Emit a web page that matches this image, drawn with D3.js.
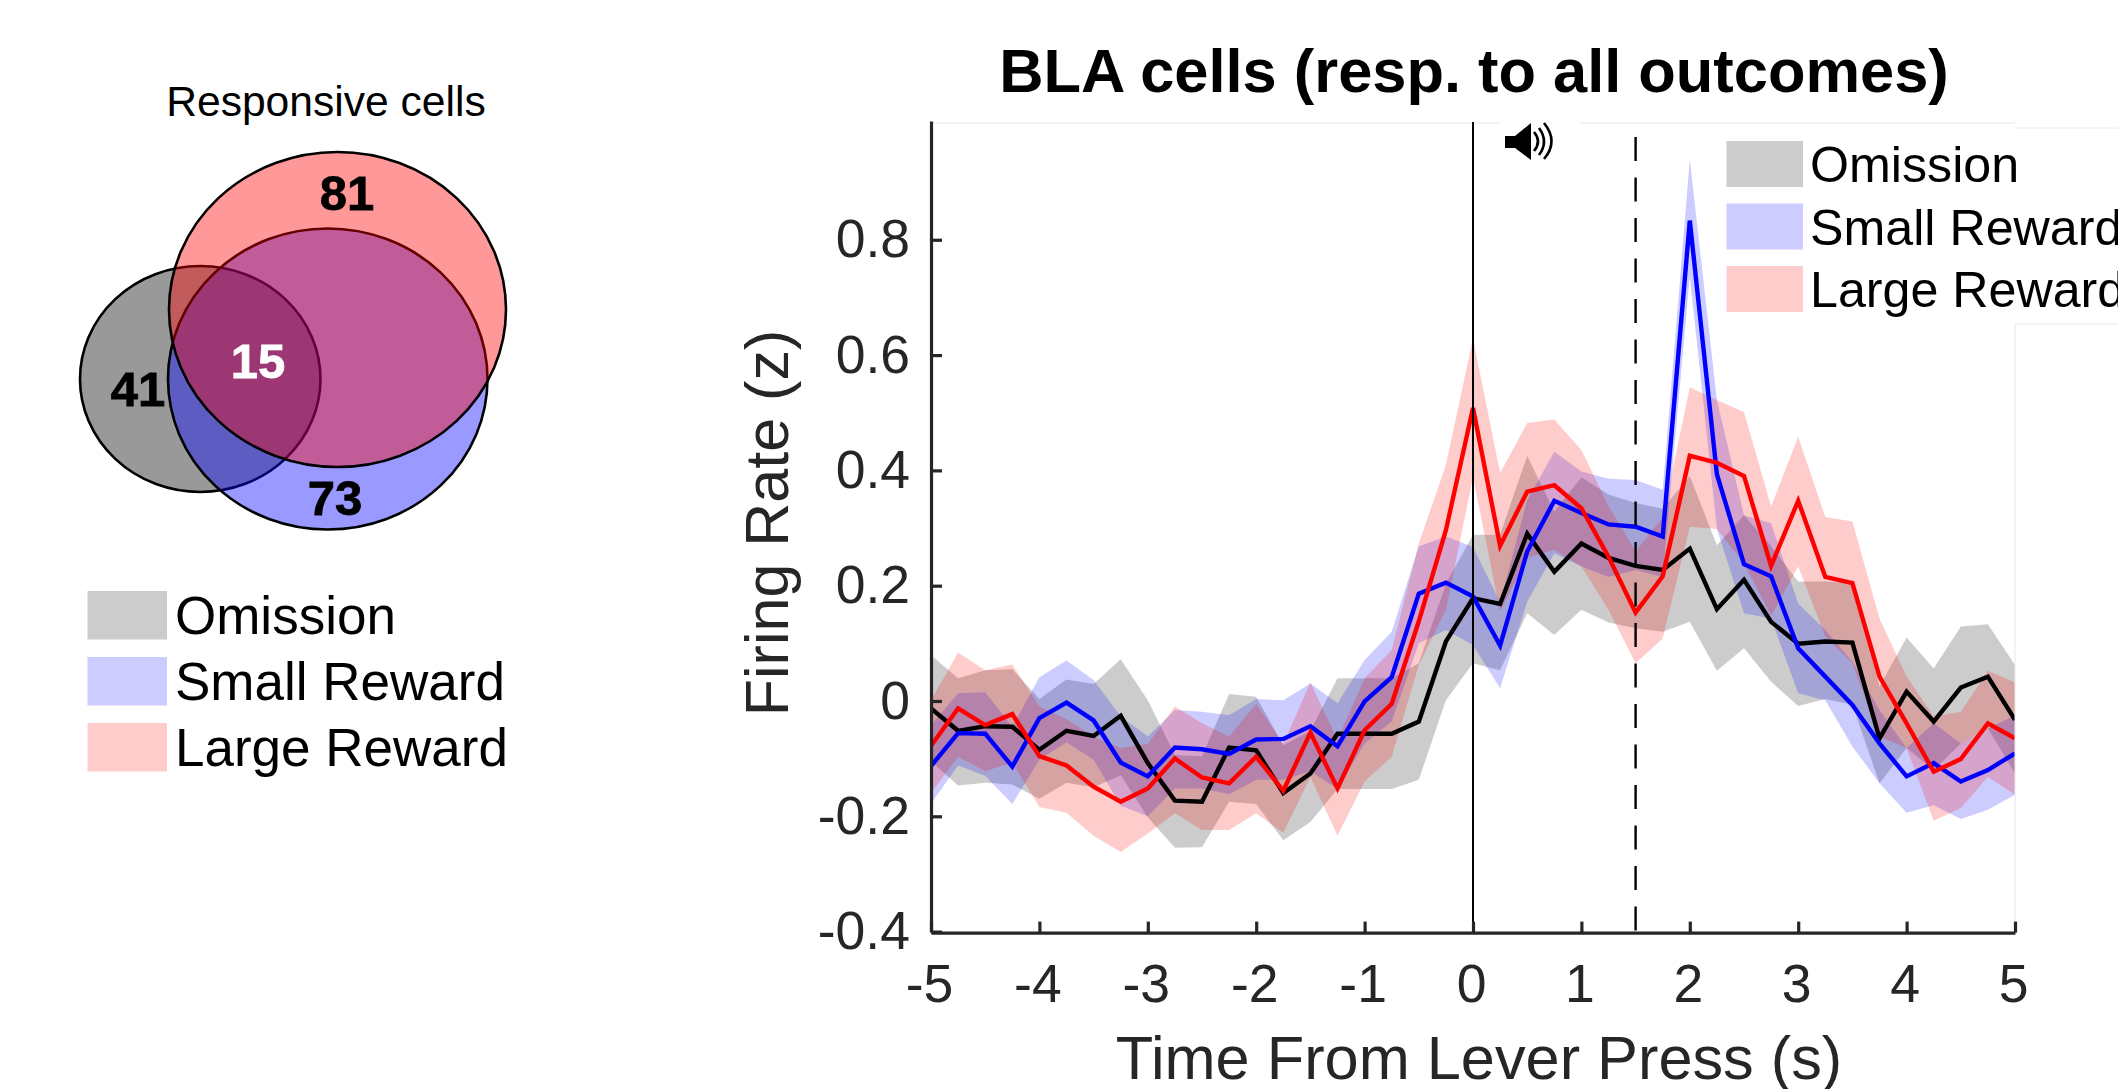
<!DOCTYPE html>
<html>
<head>
<meta charset="utf-8">
<script src="https://cdn.jsdelivr.net/npm/d3@7"></script>
<style>
  body { margin: 0; background: white; overflow: hidden; }
  text { font-family: "Liberation Sans", Arial, sans-serif; }
</style>
</head>
<body>
<div id="container"></div>
<script>
let w = 2118;
let h = 1089;

// time bins, every 0.25 s
let times = [-5,-4.75,-4.5,-4.25,-4,-3.75,-3.5,-3.25,-3,-2.75,-2.5,-2.25,-2,-1.75,-1.5,-1.25,-1,-0.75,-0.5,-0.25,0,0.25,0.5,0.75,1,1.25,1.5,1.75,2,2.25,2.5,2.75,3,3.25,3.5,3.75,4,4.25,4.5,4.75,5];

let omissionMean = [-.011,-.05,-.042,-.043,-.083,-.05,-.059,-.024,-.106,-.171,-.173,-.079,-.084,-.158,-.124,-.055,-.055,-.055,-.034,.105,.18,.17,.292,.226,.275,.25,.236,.229,.266,.161,.212,.139,.101,.105,.103,-.063,.018,-.034,.025,.044,-.031];
let omissionUpper = [.081,.041,.055,.057,.005,.039,.031,.074,.003,-.092,-.094,.014,.009,-.075,-.05,.041,.041,.041,.067,.205,.29,.29,.427,.33,.39,.36,.345,.335,.392,.272,.324,.27,.209,.209,.206,.027,.112,.058,.131,.135,.064];
let omissionLower = [-.103,-.145,-.14,-.143,-.168,-.14,-.148,-.127,-.2,-.253,-.252,-.173,-.177,-.24,-.208,-.151,-.151,-.151,-.135,.003,.067,.055,.154,.116,.16,.138,.128,.122,.139,.054,.093,.035,-.007,.005,-.005,-.141,-.08,-.118,-.072,-.046,-.124];

let smallMean = [-.111,-.054,-.055,-.112,-.028,-.001,-.032,-.105,-.129,-.079,-.082,-.09,-.065,-.064,-.042,-.077,.001,.043,.188,.207,.183,.098,.261,.349,.328,.308,.304,.287,.835,.395,.239,.218,.093,.044,-.005,-.072,-.129,-.106,-.138,-.118,-.089];
let smallUpper = [-.04,.015,.017,-.043,.043,.072,.038,-.025,-.06,-.014,-.017,-.023,.005,.003,.032,-.002,.073,.122,.27,.287,.269,.173,.35,.434,.4,.387,.385,.368,.941,.524,.324,.31,.171,.125,.07,-.014,-.08,-.037,-.072,-.046,-.023];
let smallLower = [-.176,-.11,-.128,-.177,-.1,-.07,-.1,-.18,-.198,-.15,-.15,-.16,-.135,-.135,-.12,-.151,-.072,-.034,.102,.125,.099,.024,.174,.258,.235,.217,.229,.217,.738,.3,.154,.145,.015,.003,-.077,-.141,-.192,-.179,-.203,-.187,-.161];

let largeMean = [-.076,-.011,-.04,-.021,-.094,-.11,-.147,-.173,-.15,-.098,-.131,-.141,-.095,-.154,-.053,-.15,-.049,-.003,.14,.298,.51,.271,.365,.376,.336,.252,.155,.218,.427,.415,.392,.236,.349,.217,.206,.044,-.037,-.121,-.099,-.037,-.063];
let largeUpper = [.003,.086,.055,.065,-.008,-.03,-.06,-.08,-.073,-.008,-.037,-.06,-.003,-.073,.034,-.066,.041,.09,.275,.411,.631,.397,.484,.49,.437,.34,.261,.32,.546,.524,.503,.339,.46,.321,.313,.145,.044,-.025,-.017,.054,.034];
let largeLower = [-.158,-.095,-.12,-.105,-.182,-.192,-.232,-.26,-.228,-.193,-.222,-.222,-.193,-.227,-.13,-.232,-.138,-.095,.064,.16,.39,.157,.25,.264,.235,.16,.067,.11,.304,.3,.24,.15,.235,.113,.067,-.06,-.08,-.206,-.184,-.13,-.161];

let xTicks = [-5,-4,-3,-2,-1,0,1,2,3,4,5];
let xTickLabels = ["-5","-4","-3","-2","-1","0","1","2","3","4","5"];
let yTicks = [-0.4,-0.2,0,0.2,0.4,0.6,0.8];
let yTickLabels = ["-0.4","-0.2","0","0.2","0.4","0.6","0.8"];

let legendNames = ["Omission","Small Reward","Large Reward"];
let legendColors = ["#cccccc","#ccccff","#ffcccc"];

let viz = d3.select("#container")
  .append("svg")
    .attr("width", w)
    .attr("height", h)
    .style("display", "block")
    .style("background-color", "white")
;

// ---------- venn panel ----------
let vennGroup = viz.append("g").attr("class", "venn");

vennGroup.append("text")
  .attr("x", 326).attr("y", 116)
  .attr("text-anchor", "middle")
  .attr("font-size", 42.6)
  .attr("fill", "black")
  .text("Responsive cells");

function drawEllipse(x0, x1, y0, y1, color){
  vennGroup.append("ellipse")
    .attr("cx", (x0 + x1) / 2)
    .attr("cy", (y0 + y1) / 2)
    .attr("rx", (x1 - x0) / 2)
    .attr("ry", (y1 - y0) / 2)
    .attr("fill", color)
    .attr("fill-opacity", 0.4)
    .attr("stroke", "black")
    .attr("stroke-width", 2.6);
}
drawEllipse(80, 320.5, 266, 492, "black");
drawEllipse(168, 487.5, 228.5, 529.5, "blue");
drawEllipse(169, 506, 152, 467, "red");

function vennLabel(x, y, txt, color){
  vennGroup.append("text")
    .attr("x", x).attr("y", y)
    .attr("text-anchor", "middle")
    .attr("font-size", 49)
    .attr("font-weight", "bold")
    .attr("fill", color)
    .attr("stroke", color)
    .attr("stroke-width", 0.8)
    .text(txt);
}
vennLabel(347, 210, "81", "black");
vennLabel(335, 515, "73", "black");
vennLabel(138, 406, "41", "black");
vennLabel(258, 378, "15", "white");

function drawLegend(x, yTop, size, rowGap, textX, baseOffset, fontSize){
  let rows = viz.append("g").selectAll("g").data(legendNames).enter().append("g")
    .attr("transform", function(d, i){ return "translate(0," + (yTop + i * rowGap) + ")"; });
  rows.append("rect")
    .attr("x", x).attr("y", 0)
    .attr("width", size[0]).attr("height", size[1])
    .attr("fill", function(d, i){ return legendColors[i]; });
  rows.append("text")
    .attr("x", textX).attr("y", baseOffset)
    .attr("font-size", fontSize)
    .attr("fill", "black")
    .text(function(d){ return d; });
}
drawLegend(87.5, 591, [79.5, 48.5], 66, 175, 42.5, 53);

// ---------- time course panel ----------
let xScale = d3.scaleLinear().domain([-5, 5]).range([931, 2015]);
let yScale = d3.scaleLinear().domain([-0.4, 1.006]).range([932.6, 122]);

viz.append("defs").append("clipPath").attr("id", "plotClip")
  .append("rect")
    .attr("x", 931).attr("y", 122)
    .attr("width", 1084).attr("height", 811);

let plotGroup = viz.append("g").attr("clip-path", "url(#plotClip)");

let bandArea = d3.area()
  .x(function(d){ return xScale(d.t); })
  .y0(function(d){ return yScale(d.lo); })
  .y1(function(d){ return yScale(d.hi); });

let meanLine = d3.line()
  .x(function(d){ return xScale(d.t); })
  .y(function(d){ return yScale(d.m); });

let seriesList = [
  { color: "black", mean: omissionMean, upper: omissionUpper, lower: omissionLower },
  { color: "blue", mean: smallMean, upper: smallUpper, lower: smallLower },
  { color: "red", mean: largeMean, upper: largeUpper, lower: largeLower }
];

function rowsFor(s){
  return times.map(function(t, i){
    return { t: t, m: s.mean[i], hi: s.upper[i], lo: s.lower[i] };
  });
}

seriesList.forEach(function(s){
  plotGroup.append("path")
    .attr("d", bandArea(rowsFor(s)))
    .attr("fill", s.color)
    .attr("fill-opacity", 0.2);
});
seriesList.forEach(function(s){
  plotGroup.append("path")
    .attr("d", meanLine(rowsFor(s)))
    .attr("fill", "none")
    .attr("stroke", s.color)
    .attr("stroke-width", 4.4)
    .attr("stroke-linejoin", "miter");
});

// faint leftovers of the panel edges
let edgeColor = "#e8e8e8";
[[931, 1500, 123, 123], [1580, 2015, 123, 123], [2015, 2118, 128, 128], [2015, 2015, 324, 932], [2015, 2118, 324, 324]].forEach(function(e){
  viz.append("line")
    .attr("x1", e[0]).attr("x2", e[1]).attr("y1", e[2]).attr("y2", e[3])
    .attr("stroke", edgeColor)
    .attr("stroke-width", 1);
});

// event lines
viz.append("line")
  .attr("x1", xScale(0)).attr("x2", xScale(0))
  .attr("y1", 122).attr("y2", yScale(-0.4))
  .attr("stroke", "black").attr("stroke-width", 2);
viz.append("line")
  .attr("x1", xScale(1.5)).attr("x2", xScale(1.5))
  .attr("y1", 137).attr("y2", yScale(-0.4))
  .attr("stroke", "black").attr("stroke-width", 2.4)
  .attr("stroke-dasharray", "24 16.5");

// speaker icon
let speaker = viz.append("g").attr("transform", "translate(1505,123)");
speaker.append("path")
  .attr("d", "M0,13 L10,13 L26,0 L26,37 L10,25 L0,25 Z")
  .attr("fill", "black");
[[29, 9, 28, 8], [34, 5, 32, 10], [39, 0, 36, 15]].forEach(function(a){
  speaker.append("path")
    .attr("d", "M" + a[0] + "," + a[1] + " Q" + (a[0] + a[3]) + ",18.5 " + a[0] + "," + a[2])
    .attr("fill", "none")
    .attr("stroke", "black")
    .attr("stroke-width", 2.6);
});

// axes
let xAxis = d3.axisBottom(xScale)
  .tickValues(xTicks)
  .tickFormat(function(d, i){ return xTickLabels[i]; })
  .tickSizeInner(-11)
  .tickSizeOuter(0)
  .tickPadding(31);
let xAxisGroup = viz.append("g").attr("class", "xaxis")
  .attr("transform", "translate(0," + yScale(-0.4) + ")")
  .call(xAxis);
xAxisGroup.selectAll("text").attr("dx", -2);

let yAxis = d3.axisLeft(yScale)
  .tickValues(yTicks)
  .tickFormat(function(d, i){ return yTickLabels[i]; })
  .tickSizeInner(-11)
  .tickSizeOuter(0)
  .tickPadding(21);
let yAxisGroup = viz.append("g").attr("class", "yaxis")
  .attr("transform", "translate(931,-1)")
  .call(yAxis);

viz.selectAll(".xaxis text, .yaxis text")
  .attr("font-family", "Liberation Sans")
  .attr("font-size", 53.5)
  .attr("fill", "#262626");
viz.selectAll(".xaxis path, .yaxis path, .xaxis line, .yaxis line")
  .attr("stroke", "#262626")
  .attr("stroke-width", 3.2);

// titles
viz.append("text")
  .attr("x", 1474).attr("y", 92)
  .attr("text-anchor", "middle")
  .attr("font-size", 61.4)
  .attr("font-weight", "bold")
  .attr("fill", "black")
  .text("BLA cells (resp. to all outcomes)");
viz.append("text")
  .attr("x", 1479).attr("y", 1079)
  .attr("text-anchor", "middle")
  .attr("font-size", 61.3)
  .attr("fill", "#262626")
  .text("Time From Lever Press (s)");
viz.append("text")
  .attr("transform", "translate(788,523) rotate(-90)")
  .attr("text-anchor", "middle")
  .attr("font-size", 61)
  .attr("fill", "#262626")
  .text("Firing Rate (z)");

drawLegend(1726.5, 141, [76.5, 46], 62.5, 1810, 41, 50.2);
</script>
</body>
</html>
